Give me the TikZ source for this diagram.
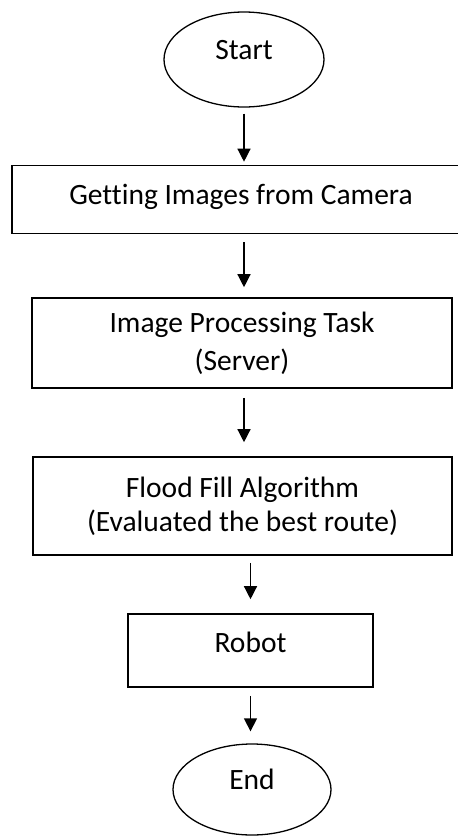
\documentclass[tikz,border=0pt]{standalone}
\usepackage{fontspec}
\setmainfont{Carlito}[Ligatures=NoCommon]
\usetikzlibrary{arrows.meta,shapes.geometric}
\begin{document}
\begin{tikzpicture}[x=1pt,y=-1pt,
  every node/.style={font=\fontsize{29.5}{36}\selectfont},
  terminal/.style={draw, ellipse, line width=1.3pt, inner sep=0pt, text height=0pt, text depth=0pt},
  stepbox/.style={draw, rectangle, line width=1.6pt, inner sep=0pt, align=center},
  flow/.style={line width=1.3pt, -{Triangle[length=13pt,width=13pt]}}
]
\useasboundingbox (0,0) rectangle (458,836);
\clip (0,0) rectangle (458,836);

% terminals and process steps
\node[terminal, minimum width=160pt, minimum height=95pt] (start) at (244,59.5) {Start};
\node[stepbox, minimum width=458pt, minimum height=68pt, text height=21pt, text depth=12pt]
  (cam) at (241,199.5) {Getting Images from Camera};
\node[stepbox, minimum width=420pt, minimum height=90pt, font=\fontsize{29.5}{38}\selectfont]
  (proc) at (242,343) {Image Processing Task\\(Server)};
\node[stepbox, minimum width=419pt, minimum height=98pt, font=\fontsize{29.5}{34}\selectfont]
  (flood) at (242.5,506) {Flood Fill Algorithm\\(Evaluated the best route)};
\node[stepbox, minimum width=245pt, minimum height=73pt, text height=21pt, text depth=17pt]
  (robot) at (250.5,650.5) {Robot};
\node[terminal, minimum width=158pt, minimum height=91pt] (end) at (252,789.5) {End};

% connectors
\draw[flow, shorten <=6pt, shorten >=3pt] (start.south) -- (start.south |- cam.north);
\draw[flow, shorten <=8pt, shorten >=10pt] (start.south |- cam.south) -- (start.south |- proc.north);
\draw[flow, shorten <=9pt, shorten >=14pt] (start.south |- proc.south) -- (start.south |- flood.north);
\draw[flow, shorten <=7pt, shorten >=14pt] (robot.north |- flood.south) -- (robot.north);
\draw[flow, shorten <=8pt, shorten >=12pt] (robot.south) -- (robot.south |- end.north);
\end{tikzpicture}
\end{document}
